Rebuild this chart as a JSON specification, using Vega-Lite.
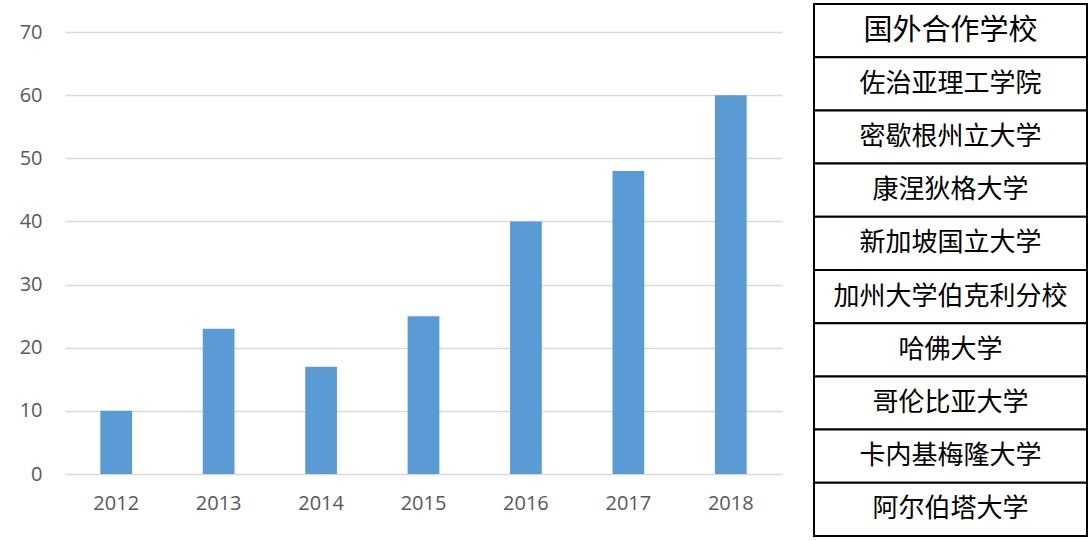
{
  "$schema": "https://vega.github.io/schema/vega-lite/v6.json",
  "padding": {"left": 0, "top": 3, "right": 0, "bottom": 0},
  "background": "white",
  "spacing": 31,
  "config": {
    "view": {"stroke": null},
    "font": "Open Sans"
  },
  "hconcat": [
    {
      "width": 717,
      "height": 470,
      "data": {"values": [
        {"year": "2012", "value": 10},
        {"year": "2013", "value": 23},
        {"year": "2014", "value": 17},
        {"year": "2015", "value": 25},
        {"year": "2016", "value": 40},
        {"year": "2017", "value": 48},
        {"year": "2018", "value": 60}
      ]},
      "mark": {"type": "bar", "color": "#5B9BD5"},
      "encoding": {
        "x": {
          "field": "year", "type": "ordinal", "sort": null,
          "scale": {"paddingInner": 0.69, "paddingOuter": 0.345},
          "axis": {"title": null, "labelAngle": 0, "domain": false, "ticks": false, "labelPadding": 19, "labelFontSize": 20, "labelColor": "#595959", "labelFont": "Open Sans"}
        },
        "y": {
          "field": "value", "type": "quantitative",
          "scale": {"domain": [0, 74.44], "nice": false, "zero": true},
          "axis": {"title": null, "values": [0, 10, 20, 30, 40, 50, 60, 70], "domain": false, "ticks": false, "labelPadding": 23, "labelFontSize": 20, "labelColor": "#595959", "labelFont": "Open Sans", "gridColor": "#D9D9D9", "gridWidth": 1.3, "minExtent": 65, "maxExtent": 65}
        }
      }
    },
    {
      "width": 273,
      "height": 532,
      "data": {"values": [
        {"name": "国外合作学校", "kind": "header"},
        {"name": "佐治亚理工学院", "kind": "row"},
        {"name": "密歇根州立大学", "kind": "row"},
        {"name": "康涅狄格大学", "kind": "row"},
        {"name": "新加坡国立大学", "kind": "row"},
        {"name": "加州大学伯克利分校", "kind": "row"},
        {"name": "哈佛大学", "kind": "row"},
        {"name": "哥伦比亚大学", "kind": "row"},
        {"name": "卡内基梅隆大学", "kind": "row"},
        {"name": "阿尔伯塔大学", "kind": "row"}
      ]},
      "encoding": {
        "y": {"field": "name", "type": "nominal", "sort": null, "scale": {"paddingInner": 0, "paddingOuter": 0}, "axis": null}
      },
      "layer": [
        {
          "mark": {"type": "rect", "fill": "white", "stroke": "black", "strokeWidth": 2, "x": 0, "x2": 273}
        },
        {
          "mark": {"type": "text", "font": "Noto Sans CJK SC", "color": "black", "align": "center", "baseline": "middle", "x": 136.5},
          "encoding": {
            "text": {"field": "name"},
            "size": {"field": "kind", "type": "nominal", "scale": {"domain": ["header", "row"], "range": [29, 26]}, "legend": null}
          }
        }
      ]
    }
  ]
}
